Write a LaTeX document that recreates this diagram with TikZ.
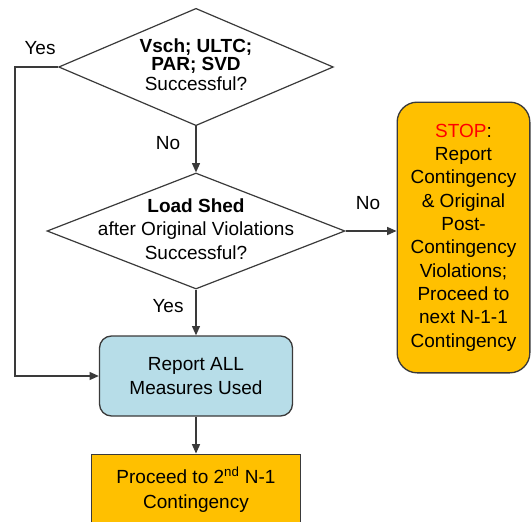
\documentclass[tikz,border=0pt]{standalone}
\usepackage{fontspec}
\setmainfont{Liberation Sans}
\usetikzlibrary{shapes.geometric,arrows.meta}

\definecolor{stoporange}{HTML}{FFC000}
\definecolor{reportblue}{HTML}{B7DDE8}
\definecolor{linegray}{HTML}{3A3A3A}

% stacked lines that take no width, so the diamond keeps its own size
\newcommand{\dtext}[1]{\makebox[0pt]{\begin{tabular}{@{}c@{}}#1\end{tabular}}}

\tikzset{
  arr/.style={draw=linegray, line width=1pt, -{Triangle[length=7pt,width=6pt]}},
  decision/.style={diamond, draw=linegray, line width=0.9pt, fill=white, inner sep=0pt},
  txt/.style={font=\fontsize{14.25}{17.5}\selectfont, align=center},
}

\begin{document}
\begin{tikzpicture}[x=0.75pt, y=-0.75pt]
            \useasboundingbox (0,0) rectangle (531,521);
            \clip (0,0) rectangle (531,521);
            % decisions
            \node[decision, minimum width=206pt, minimum height=88pt] (vsch) at (196,67)
                {\fontsize{14.25}{13.4}\selectfont\dtext{\textbf{Vsch; ULTC;}\\ \textbf{PAR; SVD}\\ Successful?}};
            \node[decision, minimum width=223.5pt, minimum height=87pt] (shed) at (196,231)
                {\fontsize{14.25}{17.5}\selectfont\dtext{\textbf{Load Shed}\\ after Original Violations\\ Successful?}};
            % boxes
            \node[txt, draw=linegray, line width=1pt, fill=reportblue, rounded corners=9pt,
                  minimum width=144.75pt, minimum height=60pt] (report) at (196,376)
                {Report ALL\\ Measures Used};
            \node[txt, draw=linegray, line width=1pt, fill=stoporange,
                  minimum width=157pt, minimum height=53pt, font=\fontsize{14.25}{18.5}\selectfont] (next) at (196,489.5)
                {Proceed to 2\textsuperscript{nd} N-1\\ Contingency};
            \node[txt, draw=linegray, line width=1pt, fill=stoporange, rounded corners=15pt,
                  minimum width=99.5pt, minimum height=203pt] (stop) at (463.5,237.5)
                {\textcolor{red}{STOP}:\\ Report\\ Contingency\\ \& Original\\ Post-\\ Contingency\\ Violations;\\ Proceed to\\ next N-1-1\\ Contingency};
            % answers
            \node[txt] (yes1) at (40,48) {Yes};
            \node[txt] (no1) at (168,143) {No};
            \node[txt] (no2) at (368,203) {No};
            \node[txt] (yes2) at (168,306) {Yes};
            % connectors
            \coordinate (bend) at (15,67);
            \draw[arr] (vsch.south) -- (shed.north);
            \draw[arr] (shed.east) -- (shed.east -| stop.west);
            \draw[arr] (shed.south) -- (report.north);
            \draw[arr] (report.south) -- (next.north);
            \draw[arr] (vsch.west) -- (bend) |- (report.west);
        \end{tikzpicture}
\end{document}
